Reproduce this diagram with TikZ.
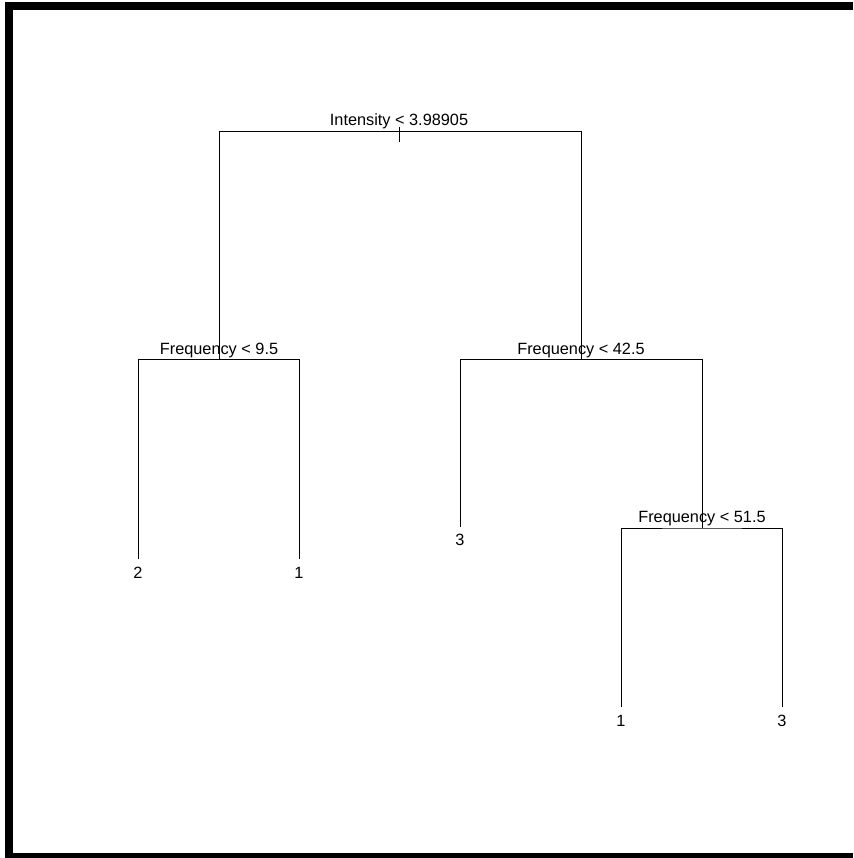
\documentclass[tikz,border=0pt]{standalone}
\usepackage{fontspec}
\setmainfont{Liberation Sans}
\usepackage{tikz}
\usetikzlibrary{positioning}
\tikzset{
  splitlab/.style={inner sep=0pt,anchor=base,font=\fontsize{16.3}{19}\selectfont},
  leaflab/.style={inner sep=0pt,anchor=north,font=\fontsize{16.3}{19}\selectfont},
  branch/.style={line width=1pt,black},
  frame/.style={fill=black},
}

\begin{document}
\begin{tikzpicture}[x=1pt,y=-1pt]
  \useasboundingbox (0,0) rectangle (853,858);
  % frame
  \fill[frame] (5,2) rectangle (13,858);
  \fill[frame] (5,2) rectangle (853,10);
  \fill[frame] (5,853) rectangle (853,858);

  % split points
  \coordinate (root) at (399,131.5);
  \coordinate (n2) at (219,359.3);
  \coordinate (n3) at (581,359.3);
  \coordinate (n7) at (702,528);
  % leaf ends
  \coordinate (l4) at (138,559);
  \coordinate (l5) at (299,559);
  \coordinate (l6) at (460,527);
  \coordinate (l14) at (621,707);
  \coordinate (l15) at (782,707);

  \draw[branch] (n2) |- (root) -| (n3);
  \draw[branch] (l4) |- (n2) -| (l5);
  \draw[branch] (l6) |- (n3) -| (n7);
  \draw[branch] (l14) |- (n7) -| (l15);
  \draw[branch] ([yshift=4.5pt]root) -- ([yshift=-11pt]root);

  \node[splitlab] (t1) at ([yshift=6pt]root) {Intensity < 3.98905};
  \node[splitlab] (t2) at ([yshift=5.3pt]n2) {Frequency < 9.5};
  \node[splitlab] (t3) at ([yshift=5.3pt]n3) {Frequency < 42.5};
  \node[splitlab] (t7) at ([yshift=5.5pt]n7) {Frequency < 51.5};

  \node[leaflab,below=8pt of l4] (c4) {2};
  \node[leaflab,below=8pt of l5] (c5) {1};
  \node[leaflab,below=7.3pt of l6] (c6) {3};
  \node[leaflab,below=8.3pt of l14] (c14) {1};
  \node[leaflab,below=8.3pt of l15] (c15) {3};
\end{tikzpicture}
\end{document}
